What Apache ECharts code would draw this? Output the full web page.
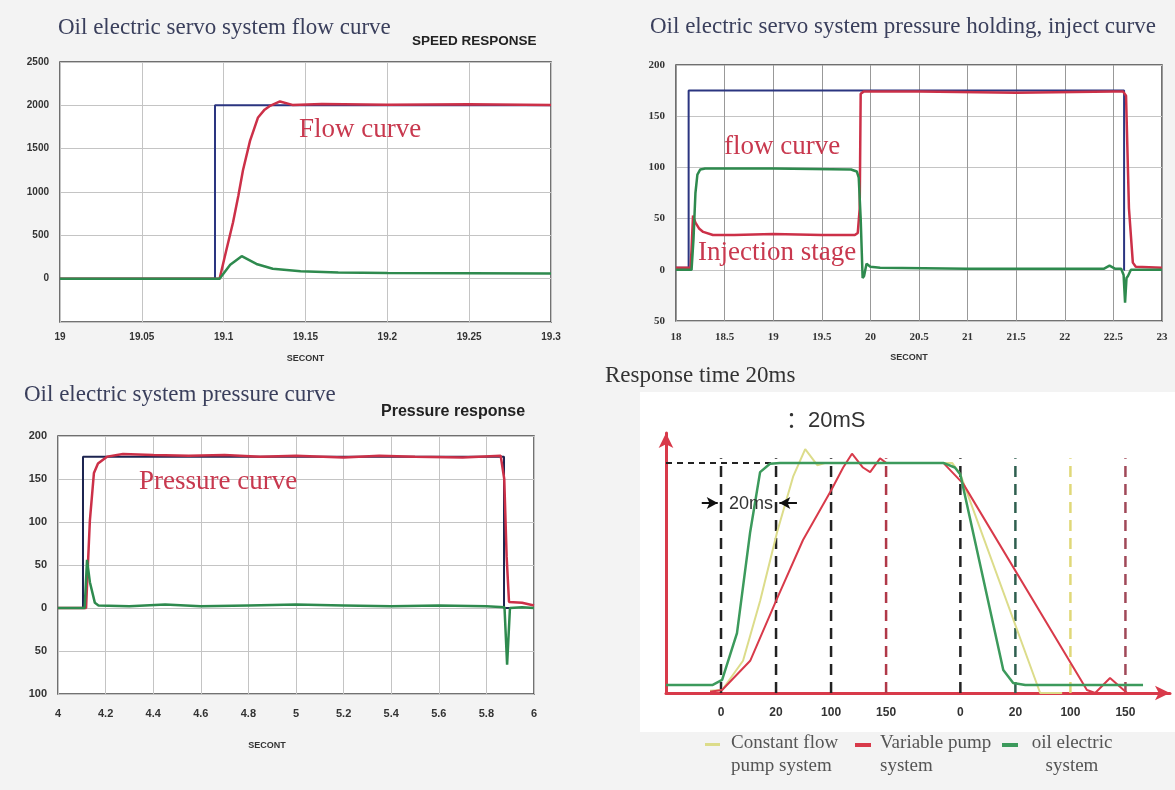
<!DOCTYPE html>
<html><head><meta charset="utf-8">
<script src="https://cdn.jsdelivr.net/npm/echarts@6/dist/echarts.min.js"></script>
<style>html,body{margin:0;padding:0;background:#f3f3f3}#c{width:1175px;height:790px}</style>
</head><body><div id="c"></div>
<script>
// ---------- Panel 1: flow curve (time in s, flow) ----------
const p1CmdT  = [19, 19.0947, 19.0947, 19.3];
const p1CmdV  = [0, 0, 2000, 2000];
const p1FlowT = [19, 19.0975, 19.1015, 19.1057, 19.109, 19.1118, 19.1161, 19.121, 19.125, 19.128, 19.1344, 19.142, 19.16, 19.2, 19.25, 19.3];
const p1FlowV = [0, 0, 320, 648, 960, 1250, 1590, 1860, 1950, 1990, 2045, 2005, 2015, 2008, 2012, 2005];
const p1OilT  = [19, 19.0975, 19.104, 19.111, 19.12, 19.13, 19.147, 19.17, 19.2, 19.25, 19.3];
const p1OilV  = [0, 0, 160, 260, 170, 115, 85, 70, 65, 62, 60];
// ---------- Panel 2: pressure holding / inject ----------
const p2CmdT  = [18, 18.13, 18.13, 22.61, 22.61, 22.62];
const p2CmdV  = [2, 2, 175, 175, 0, 0];
const p2FlowT = [18, 18.15, 18.16, 18.175, 18.2, 18.24, 18.28, 18.38, 18.6, 19.0, 19.5, 19.84, 19.87, 19.89, 19.9, 19.93, 20.5, 21.5, 22.5, 22.6, 22.63, 22.66, 22.7, 22.73, 23];
const p2FlowV = [2, 2, 20, 53, 46, 40, 37, 34, 34, 35, 34, 34, 36, 60, 172, 174, 174, 173, 174, 174, 170, 60, 7, 3, 2];
const p2OilT  = [18, 18.16, 18.18, 18.2, 18.22, 18.25, 18.3, 19.0, 19.8, 19.86, 19.88, 19.9, 19.92, 19.935, 19.96, 20.0, 20.1, 21.0, 22.0, 22.4, 22.46, 22.52, 22.58, 22.605, 22.62, 22.635, 22.65, 22.68, 23];
const p2OilV  = [0, 0, 30, 75, 93, 98, 99, 99, 98, 96, 90, 50, -8, -6, 6, 3, 2, 1, 1, 1, 4, 1, 1, -5, -32, -8, -6, 0, 0];
// ---------- Panel 3: pressure curve ----------
const p3CmdT  = [4, 4.105, 4.105, 5.874, 5.874, 5.9];
const p3CmdV  = [0, 0, 176, 176, 0, 0];
const p3PresT = [4, 4.118, 4.124, 4.134, 4.151, 4.168, 4.206, 4.273, 4.4, 4.55, 4.7, 4.85, 5.0, 5.2, 5.35, 5.5, 5.7, 5.86, 5.875, 5.885, 5.895, 5.95, 6.0];
const p3PresV = [0, 0, 40, 102, 157, 168, 176, 179, 178, 177, 178, 176, 177, 175, 177, 176, 175, 177, 150, 60, 7, 6, 3];
const p3OilT  = [4, 4.112, 4.122, 4.134, 4.155, 4.17, 4.3, 4.45, 4.6, 4.8, 5.0, 5.2, 5.4, 5.6, 5.8, 5.876, 5.887, 5.899, 5.95, 6.0];
const p3OilV  = [0, 0, 56, 30, 6, 3, 2, 4, 2, 3, 4, 3, 2, 3, 2, 1, -66, 0, 1, 0];
// ---------- Panel 4: response-time schematic (x in tick slots, y in % of level) ----------
const p4TickPos    = [0, 1, 2, 3, 4.35, 5.35, 6.35, 7.35];
const p4TickLabels = ['0', '20', '100', '150', '0', '20', '100', '150'];
const p4Level = 100;
const p4ConstX = [-0.2, 0.02, 0.4, 0.71, 1.02, 1.31, 1.53, 1.75, 1.9, 4.2, 4.35, 5.8, 6.2];
const p4ConstY = [1, 1.3, 14, 40, 70, 94, 106, 99, 100, 100, 95, 0, 0];
const p4VarX   = [-0.2, 0.02, 0.53, 1.0, 1.49, 2.0, 2.22, 2.38, 2.58, 2.71, 2.89, 3.0, 4.04, 4.4, 6.65, 6.8, 7.07, 7.38];
const p4VarY   = [0.5, 1.3, 14, 40, 66.5, 88, 98, 104, 98, 96, 102, 100, 100, 91, 1.3, 0, 6.5, 0];
const p4OilX   = [-1, -0.15, 0.02, 0.29, 0.53, 0.71, 0.89, 1.07, 4.04, 4.25, 4.35, 5.13, 5.31, 5.53, 7.67];
const p4OilY   = [3.5, 3.5, 5.7, 26, 70, 96, 99.6, 100, 100, 98, 95, 10, 4.3, 3.5, 3.5];

const pairs = (t, v) => t.map((x, i) => [x, v[i]]);

const BLUE = '#2b3580', RED = '#cc3048', GREEN = '#2e8a4e';
const YEL = '#dcdc8a', RED4 = '#d83a4a', GREEN4 = '#3c9a5c';
const dashColors = ['#222', '#222', '#222', '#b03848', '#222', '#2f5f4f', '#e0d878', '#a04858'];

const serif = "'Liberation Serif','DejaVu Serif',serif";
const sans = "'Liberation Sans','DejaVu Sans',sans-serif";

function lineS(name, xi, data, color, width) {
  return { name, type: 'line', xAxisIndex: xi, yAxisIndex: xi, data, showSymbol: false, symbol: 'none',
    animation: false, silent: true, lineStyle: { color, width }, z: 3 };
}
function tAxis(gi, min, max, interval, fam, size, margin, nameGap, namePad) {
  return { gridIndex: gi, type: 'value', min, max, interval,
    axisLine: { show: false, onZero: false }, axisTick: { show: false },
    splitLine: { show: true, lineStyle: { color: gi === 1 ? '#999' : '#c4c4c4', width: 1 } },
    axisLabel: { margin, fontFamily: fam, fontWeight: 'bold', fontSize: size, color: '#333' },
    name: 'SECONT', nameLocation: 'middle', nameGap,
    nameTextStyle: { fontFamily: sans, fontWeight: 'bold', fontSize: 9, color: '#333', padding: namePad } };
}
function vAxis(gi, min, max, interval, fam, size, fmt) {
  return { gridIndex: gi, type: 'value', min, max, interval,
    axisLine: { show: false, onZero: false }, axisTick: { show: false },
    splitLine: { show: true, lineStyle: { color: '#c4c4c4', width: 1 } },
    axisLabel: { margin: 11, fontFamily: fam, fontWeight: 'bold', fontSize: size, color: '#333', formatter: fmt } };
}
const gridStyle = { show: true, backgroundColor: '#fff', borderColor: '#444', borderWidth: 1.5 };

const series = [
  lineS('p1cmd', 0, pairs(p1CmdT, p1CmdV), BLUE, 2),
  lineS('p1flow', 0, pairs(p1FlowT, p1FlowV), RED, 2.5),
  lineS('p1oil', 0, pairs(p1OilT, p1OilV), GREEN, 2.5),
  lineS('p2cmd', 1, pairs(p2CmdT, p2CmdV), BLUE, 2),
  lineS('p2flow', 1, pairs(p2FlowT, p2FlowV), RED, 2.5),
  lineS('p2oil', 1, pairs(p2OilT, p2OilV), GREEN, 2.5),
  lineS('p3cmd', 2, pairs(p3CmdT, p3CmdV), '#1c2450', 2),
  lineS('p3pres', 2, pairs(p3PresT, p3PresV), RED, 2.5),
  lineS('p3oil', 2, pairs(p3OilT, p3OilV), GREEN, 2.5)
];
// panel 4 dashed guides at the tick slots
p4TickPos.forEach((x, i) => {
  const s = lineS('guide' + i, 3, [[x, 0], [x, p4Level + 2]], dashColors[i], 2.5);
  s.lineStyle.type = [11, 7];
  s.z = 2;
  series.push(s);
});
const lvl = lineS('level', 3, [[-1, p4Level], [p4TickPos[1], p4Level]], '#222', 2);
lvl.lineStyle.type = [6, 5];
lvl.markLine = { silent: true, animation: false, symbol: ['none', 'arrow'], symbolSize: [9, 11],
  label: { show: false }, lineStyle: { color: '#111', type: 'solid', width: 2 },
  data: [[{ coord: [-0.35, 82.6] }, { coord: [-0.06, 82.6] }], [{ coord: [1.38, 82.6] }, { coord: [1.06, 82.6] }]] };
series.push(lvl);
series.push(lineS('Constant flow pump system', 3, pairs(p4ConstX, p4ConstY), YEL, 2));
series.push(lineS('Variable pump system', 3, pairs(p4VarX, p4VarY), RED4, 2));
series.push(lineS('oil electric system', 3, pairs(p4OilX, p4OilY), GREEN4, 2.5));

const txt = (x, y, text, font, size, color, weight) => ({
  type: 'text', x, y, z: 100, silent: true,
  style: { text, fontFamily: font, fontSize: size, fontWeight: weight || 'normal', fill: color, verticalAlign: 'middle', textAlign: 'left' }
});

const chart = echarts.init(document.getElementById('c'), null, { renderer: 'canvas' });
chart.setOption({
  backgroundColor: '#f3f3f3',
  animation: false,
  grid: [
    Object.assign({ left: 60, top: 62, width: 491, height: 260 }, gridStyle),
    Object.assign({ left: 676, top: 65, width: 486, height: 256 }, gridStyle),
    Object.assign({ left: 58, top: 436, width: 476, height: 258 }, gridStyle),
    { left: 666, top: 433, width: 504, height: 260, show: false }
  ],
  xAxis: [
    tAxis(0, 19, 19.3, 0.05, sans, 10, 10, 32, [0, 0, 0, 0]),
    tAxis(1, 18, 23, 0.5, serif, 11, 11, 32, [0, 20, 0, 0]),
    tAxis(2, 4, 6, 0.2, sans, 11, 14, 47, [0, 58, 0, 0]),
    { gridIndex: 3, type: 'value', min: -1, max: 8.16,
      axisLine: { show: true, onZero: false, symbol: ['none', 'arrow'], symbolSize: [11, 15], lineStyle: { color: RED4, width: 3 } },
      axisTick: { show: false }, splitLine: { show: false },
      axisLabel: { customValues: p4TickPos, margin: 14, fontFamily: sans, fontWeight: 'bold', fontSize: 12, color: '#333',
        formatter: v => p4TickLabels[p4TickPos.indexOf(v)] } }
  ],
  yAxis: [
    vAxis(0, -500, 2500, 500, sans, 10, v => v < 0 ? '' : String(v)),
    vAxis(1, -50, 200, 50, serif, 11, v => String(Math.abs(v))),
    vAxis(2, -100, 200, 50, sans, 11, v => String(Math.abs(v))),
    { gridIndex: 3, type: 'value', min: 0, max: 113,
      axisLine: { show: true, onZero: false, symbol: ['none', 'arrow'], symbolSize: [11, 15], lineStyle: { color: RED4, width: 3 } },
      axisTick: { show: false }, splitLine: { show: false }, axisLabel: { show: false } }
  ],
  series,
  graphic: [
    { type: 'rect', z: -1, silent: true, shape: { x: 640, y: 392, width: 535, height: 340 }, style: { fill: '#fff' } },
    txt(58, 28, 'Oil electric servo system flow curve', serif, 23, '#3a3f5c'),
    txt(412, 41, 'SPEED RESPONSE', sans, 13.5, '#222', 'bold'),
    txt(299, 130, 'Flow curve', serif, 27, '#c8384e'),
    txt(650, 27, 'Oil electric servo system pressure holding, inject curve', serif, 23, '#3a3f5c'),
    txt(724, 147, 'flow curve', serif, 27, '#c8384e'),
    txt(698, 253, 'Injection stage', serif, 27, '#c8384e'),
    txt(24, 395, 'Oil electric system pressure curve', serif, 23, '#3a3f5c'),
    txt(381, 412, 'Pressure response', sans, 16, '#222', 'bold'),
    txt(139, 482, 'Pressure curve', serif, 27, '#c8384e'),
    txt(605, 376, 'Response time 20ms', serif, 23, '#333'),
    txt(786, 421, '：20mS', "'Liberation Sans','Noto Sans CJK SC',sans-serif", 22, '#333'),
    txt(729, 504, '20ms', sans, 18, '#333'),
    { type: 'rect', z: 100, silent: true, shape: { x: 705, y: 743, width: 15, height: 3 }, style: { fill: YEL } },
    { type: 'rect', z: 100, silent: true, shape: { x: 855, y: 743, width: 16, height: 4 }, style: { fill: RED4 } },
    { type: 'rect', z: 100, silent: true, shape: { x: 1002, y: 743, width: 16, height: 4 }, style: { fill: GREEN4 } },
    { type: 'text', x: 731, y: 732, z: 100, silent: true, style: { text: 'Constant flow\npump system', fontFamily: serif, fontSize: 19, lineHeight: 23, fill: '#555' } },
    { type: 'text', x: 880, y: 732, z: 100, silent: true, style: { text: 'Variable pump\nsystem', fontFamily: serif, fontSize: 19, lineHeight: 23, fill: '#555' } },
    { type: 'text', x: 1072, y: 732, z: 100, silent: true, style: { text: 'oil electric\nsystem', fontFamily: serif, fontSize: 19, lineHeight: 23, fill: '#555', textAlign: 'center' } }
  ]
});
</script></body></html>
